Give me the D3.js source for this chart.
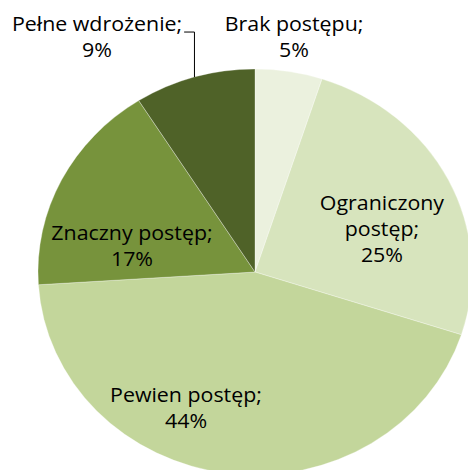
<!DOCTYPE html>
<html>
<head>
<meta charset="utf-8">
<script src="https://cdn.jsdelivr.net/npm/d3@7"></script>
<style>
  html, body { margin: 0; padding: 0; background: #fff; }
  svg { display: block; }
  text { font-family: "Open Sans", "Noto Sans", sans-serif; fill: #000; }
</style>
</head>
<body>
<div id="chart"></div>
<script>
// data
const categories = ["Brak postępu", "Ograniczony postęp", "Pewien postęp", "Znaczny postęp", "Pełne wdrożenie"];
const values = [5, 25, 44, 17, 9];
const colors = ["#ebf1de", "#d7e4bd", "#c3d69b", "#77933c", "#4f6228"];

// label anchors in units of the pie radius (u, v); first line baseline
const labelAnchors = [[0.18, -1.187], [0.585, -0.305], [-0.318, 0.64], [-0.567, -0.158], [-0.728, -1.187]];
const wrapped = ["Ograniczony postęp"];

const W = 468, H = 470;
const cx = 255, cy = 272, rx = 217, ry = 203;
const stretch = rx / ry; // the source picture is slightly stretched horizontally
const LINE_H = 26;
const FONT_PX = 20;

const svg = d3.select("#chart").append("svg")
    .attr("width", W).attr("height", H)
    .attr("viewBox", [0, 0, W, H]);

const u = d3.scaleLinear().domain([-1, 1]).range([cx - rx, cx + rx]);
const v = d3.scaleLinear().domain([-1, 1]).range([cy - ry, cy + ry]);

const pie = d3.pie().sort(null).value(d => d.value);
const arcs = pie(categories.map((c, i) => ({ name: c, value: values[i], color: colors[i] })));
const arc = d3.arc().innerRadius(0).outerRadius(ry);

svg.append("g")
    .attr("transform", `translate(${cx},${cy}) scale(${stretch},1)`)
    .selectAll("path")
    .data(arcs)
    .join("path")
    .attr("d", arc)
    .attr("fill", d => d.data.color)
    .attr("stroke", "#ffffff")
    .attr("stroke-opacity", 0.5)
    .attr("stroke-width", 0.6);

const labels = svg.append("g")
    .attr("font-size", FONT_PX + "px")
    .attr("text-anchor", "middle");

const labelNodes = arcs.map((d, i) => {
    const name = d.data.name + ";";
    const lines = wrapped.includes(d.data.name) ? name.split(" ") : [name];
    lines.push(d.data.value + "%");
    const [lu, lv] = labelAnchors[i];
    const g = labels.append("g")
        .attr("transform", `translate(${u(lu)},${v(lv)}) scale(${stretch},1)`);
    const t = g.append("text");
    lines.forEach((ln, j) => {
        t.append("tspan")
            .attr("x", 0)
            .attr("dy", j === 0 ? 0 : LINE_H)
            .text(ln);
    });
    return t;
});

// leader line for the last (small) slice
const li = arcs.length - 1;
const mid = (arcs[li].startAngle + arcs[li].endAngle) / 2;
const edgeX = u(Math.sin(mid)), edgeY = v(-Math.cos(mid));
const bb = labelNodes[li].select("tspan").node().getBBox();
const startX = u(labelAnchors[li][0]) + (bb.x + bb.width) * stretch + 2;
const lineY = v(labelAnchors[li][1]) + 1;
svg.append("path")
    .attr("d", `M${startX},${lineY}H${edgeX}V${edgeY}`)
    .attr("fill", "none")
    .attr("stroke", "#000")
    .attr("stroke-width", 1);
</script>
</body>
</html>
